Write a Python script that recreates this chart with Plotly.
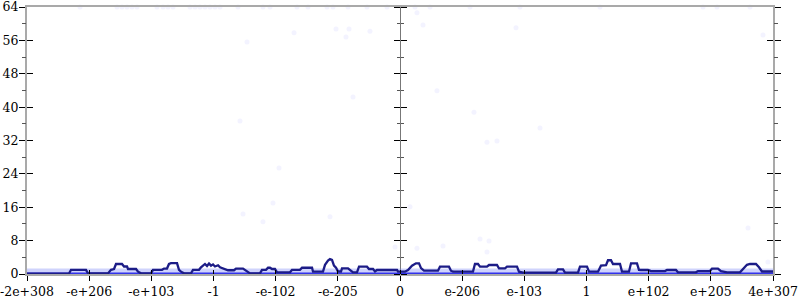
import plotly.graph_objects as go

# x positions are in axis tick units (flonum-ordinal scale, tick k at k)
tick_vals = [-6, -5, -4, -3, -2, -1, 0, 1, 2, 3, 4, 5, 6]
tick_text = ["-2e+308", "-e+206", "-e+103", "-1", "-e-102", "-e-205", "0",
             "e-206", "e-103", "1", "e+102", "e+205", "4e+307"]

# mean error line
line_x = [-6.00, -5.324, -5.292, -5.051, -5.019, -4.697, -4.649, -4.600, -4.568, -4.472,
          -4.439, -4.391, -4.375, -4.246, -4.214, -4.166, -4.005, -3.973, -3.828, -3.796,
          -3.748, -3.716, -3.683, -3.587, -3.555, -3.523, -3.474, -3.362, -3.330, -3.233,
          -3.201, -3.169, -3.137, -3.104, -3.072, -3.040, -3.008, -2.976, -2.927, -2.895,
          -2.847, -2.799, -2.767, -2.670, -2.638, -2.525, -2.493, -2.461, -2.413, -2.252,
          -2.220, -2.155, -2.123, -2.091, -2.059, -2.011, -1.978, -1.769, -1.737, -1.609,
          -1.576, -1.415, -1.399, -1.239, -1.206, -1.158, -1.126, -1.094, -1.062, -1.029,
          -0.997, -0.949, -0.933, -0.836, -0.804, -0.756, -0.692, -0.659, -0.531, -0.499,
          -0.434, -0.402, -0.370, -0.048, -0.032, 0.080, 0.129, 0.193, 0.257, 0.306,
          0.338, 0.386, 0.611, 0.643, 0.788, 0.820, 0.853, 1.174, 1.206, 1.255,
          1.287, 1.399, 1.432, 1.560, 1.592, 1.689, 1.721, 1.882, 1.914, 1.978,
          2.509, 2.541, 2.622, 2.654, 2.863, 2.895, 3.008, 3.040, 3.185, 3.233,
          3.314, 3.346, 3.394, 3.426, 3.539, 3.571, 3.683, 3.716, 3.812, 3.844,
          3.876, 3.989, 4.037, 4.263, 4.295, 4.439, 4.472, 4.761, 4.793, 4.986,
          5.019, 5.115, 5.163, 5.260, 5.469, 5.517, 5.581, 5.630, 5.726, 5.775,
          5.823, 6.000]
line_y = [0.1, 0.1, 1.0, 1.0, 0.15, 0.15, 1.0, 1.2, 2.4, 2.4,
          1.8, 1.8, 1.2, 1.2, 0.56, 0.16, 0.16, 1.0, 1.0, 1.3,
          1.3, 2.4, 2.6, 2.6, 1.0, 0.56, 0.16, 0.16, 1.0, 1.0,
          1.6, 2.0, 2.4, 1.9, 2.5, 2.0, 2.3, 1.8, 2.1, 1.6,
          1.3, 1.0, 0.9, 0.9, 1.3, 1.3, 1.0, 0.56, 0.16, 0.16,
          1.0, 1.0, 1.5, 1.5, 1.2, 1.2, 0.4, 0.4, 1.0, 1.0,
          1.5, 1.5, 0.56, 0.56, 2.2, 3.2, 3.6, 3.4, 2.0, 1.5,
          0.6, 0.6, 1.36, 1.36, 0.96, 0.4, 0.4, 1.76, 1.76, 1.2,
          1.2, 0.6, 0.96, 0.96, 0.56, 0.56, 0.96, 2.0, 2.56, 2.56,
          1.4, 0.8, 0.8, 1.76, 1.76, 0.8, 0.56, 0.56, 2.4, 2.4,
          1.76, 1.76, 2.16, 2.16, 1.36, 1.36, 1.76, 1.76, 0.56, 0.32,
          0.32, 1.1, 1.1, 0.32, 0.32, 1.76, 1.76, 0.56, 0.56, 2.0,
          2.1, 3.3, 3.3, 2.4, 2.4, 0.56, 0.56, 2.56, 2.56, 1.0,
          0.96, 0.96, 0.7, 0.7, 0.96, 0.96, 0.4, 0.4, 0.7, 0.7,
          1.3, 1.3, 0.7, 0.4, 0.4, 1.2, 2.2, 2.4, 2.4, 1.6,
          0.6, 0.6]

# dense band of samples near zero
band_x = [-6, 6]
band_top = [1.3, 1.3]
zero_x = [-6, 6]
zero_y = [0, 0]

# sparse faint samples
pts_x = [-5.147, -4.552, -4.472, -4.391, -4.311, -4.230, -3.909, -3.812, -3.732, -3.651,
         -3.378, -3.297, -3.217, -3.137, -3.056, -2.976, -2.895, -2.606, -2.204, -2.091,
         -1.657, -1.480, -1.174, -1.078, -0.836, -0.531, -0.209, 0.241, 0.483, 1.126,
         1.930, 3.217, 4.874, 5.099, 5.630,
         -2.461, -1.705, -1.029, -0.820, -0.869, -0.483, -0.756, -2.574, -2.525, -2.204,
         -2.043, -1.126, -0.080, -1.946, 0.161, 0.273, 0.692, 1.287, 1.432, 1.399,
         5.598, 5.919, 0.273, 0.370, 0.595, 5.839, 1.190, 1.399, 1.560, 1.866, 2.252]
pts_y = [64] * 35 + [
         55.6, 57.8, 58.7, 58.7, 56.8, 58.2, 42.4, 36.7, 14.4, 12.5,
         17.0, 13.7, 6.5, 25.4, 16.1, 6.2, 6.7, 8.4, 7.9, 5.3,
         11.0, 2.9, 62.6, 59.7, 43.9, 57.3, 38.8, 31.6, 31.9, 59.0, 35.0]

FRAME = "#a9a9a9"
serif = dict(family="DejaVu Serif", size=12.5, color="black")

fig = go.Figure()
fig.add_trace(go.Scatter(x=band_x, y=band_top, mode="lines", line=dict(width=0),
                         fill="tozeroy", fillcolor="rgba(110,120,245,0.33)",
                         hoverinfo="skip", showlegend=False))
fig.add_trace(go.Scatter(x=pts_x, y=pts_y, mode="markers",
                         marker=dict(size=5, color="rgba(80,80,255,0.07)"),
                         showlegend=False, cliponaxis=False))
fig.add_trace(go.Scatter(x=zero_x, y=zero_y, mode="lines",
                         line=dict(color="rgb(50,50,235)", width=3),
                         showlegend=False, cliponaxis=False))
fig.add_trace(go.Scatter(x=line_x, y=line_y, mode="lines",
                         line=dict(color="rgb(28,28,135)", width=2.3),
                         showlegend=False))
# empty traces so the extra tick axes are drawn
for xa, ya in [("x2", "y"), ("x", "y2"), ("x", "y3"), ("x", "y4")]:
    fig.add_trace(go.Scatter(x=[None], y=[None], xaxis=xa, yaxis=ya, mode="lines",
                             showlegend=False, hoverinfo="skip"))

common_y = dict(range=[0, 64], tickvals=list(range(0, 65, 8)), showgrid=False,
                zeroline=False, tickcolor="black", tickwidth=1, automargin=False,
                minor=dict(tickvals=list(range(4, 64, 8)), ticklen=3, tickcolor="#555555"))

fig.update_layout(
    width=800, height=300,
    margin=dict(l=27, r=27, t=7, b=26, autoexpand=False),
    paper_bgcolor="white", plot_bgcolor="white",
    font=serif,
    xaxis=dict(range=[-6, 6], tickvals=tick_vals, ticktext=tick_text,
               ticks="outside", ticklen=5, tickcolor="black", tickwidth=1,
               showline=True, linecolor=FRAME, linewidth=2, mirror=True,
               showgrid=False, zeroline=True, zerolinecolor="#777777", zerolinewidth=1,
               tickfont=serif, automargin=False, ticklabeloverflow="allow"),
    xaxis2=dict(range=[-6, 6], overlaying="x", tickvals=tick_vals, ticks="inside",
                ticklen=4, tickcolor="black", showticklabels=False, showline=False,
                showgrid=False, zeroline=False, automargin=False),
    yaxis=dict(**common_y, ticks="outside", ticklen=6, showline=True, linecolor=FRAME,
               linewidth=2, mirror="ticks", tickfont=serif, ticklabeloverflow="allow",
               ticklabelstandoff=-2),
    yaxis2=dict(**common_y, overlaying="y", ticks="inside", ticklen=6,
                showticklabels=False, showline=False, mirror="ticks"),
    yaxis3=dict(**common_y, overlaying="y", anchor="free", position=0.5, side="left",
                ticks="outside", ticklen=6, showticklabels=False, showline=False),
    yaxis4=dict(**common_y, overlaying="y", anchor="free", position=0.5, side="right",
                ticks="outside", ticklen=6, showticklabels=False, showline=False),
)

fig.write_html("out.html")
